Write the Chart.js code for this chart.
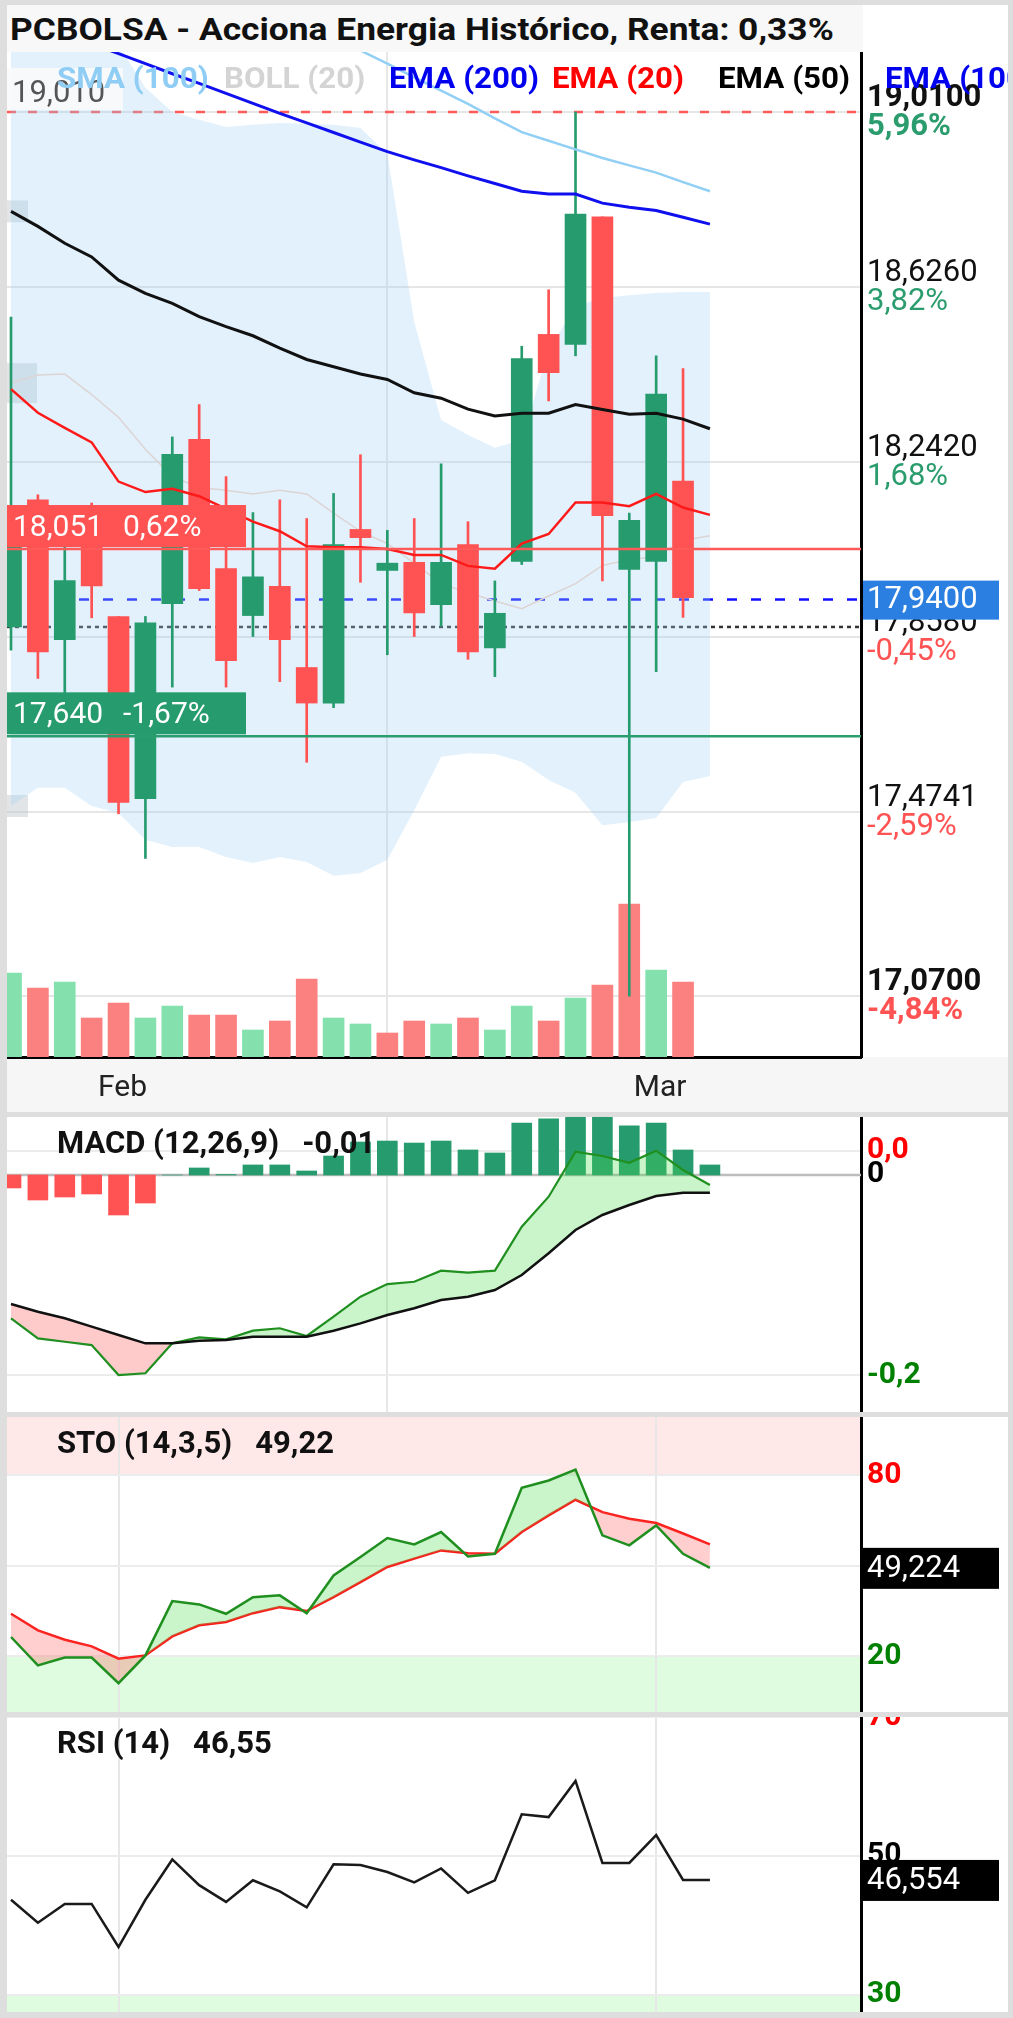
<!DOCTYPE html>
<html lang="es">
<head>
<meta charset="utf-8">
<title>PCBOLSA - Acciona Energia Histórico</title>
<script src="https://cdn.jsdelivr.net/npm/chart.js@4.4.1/dist/chart.umd.min.js"></script>
<style>
html,body{margin:0;padding:0}
body{width:1013px;height:2018px;background:#dedede;position:relative;overflow:hidden;font-family:Roboto,"Noto Sans",sans-serif}
.blk{position:absolute;left:7px;width:1001px;background:#fff}
canvas{position:absolute;left:7px}
.t{position:absolute;white-space:pre;line-height:36px;height:36px;transform-origin:0 50%}
.lg{font-size:29px;font-weight:700;top:2px;transform:scaleX(1.08)}
.pt{font-size:31px;font-weight:700;color:#111}
</style>
</head>
<body>
<div class="blk" style="top:5px;height:1107px"></div>
<div class="blk" style="top:1117px;height:295px"></div>
<div class="blk" style="top:1417px;height:295px"></div>
<div class="blk" style="top:1717px;height:295px"></div>
<div style="position:absolute;left:7px;top:5px;width:856px;height:47px;background:#f8f8f8"></div>
<canvas id="cMain" width="1001" height="1060" style="top:52px;width:1001px;height:1060px"></canvas>
<canvas id="cMacd" width="1001" height="295" style="top:1117px;width:1001px;height:295px"></canvas>
<canvas id="cSto" width="1001" height="295" style="top:1417px;width:1001px;height:295px"></canvas>
<canvas id="cRsi" width="1001" height="295" style="top:1717px;width:1001px;height:295px"></canvas>

<div class="t" style="left:10px;top:12px;font-size:31px;font-weight:700;color:#111;transform:scaleX(1.14)">PCBOLSA - Acciona Energia Histórico, Renta: 0,33%</div>
<div style="position:absolute;left:7px;top:58px;width:1001px;height:40px;overflow:hidden">
  <span class="t lg" style="left:50px;color:#8fcdf5">SMA (100)</span>
  <span class="t lg" style="left:217px;color:#d4d4d4">BOLL (20)</span>
  <span class="t lg" style="left:382px;color:#0000ee">EMA (200)</span>
  <span class="t lg" style="left:545px;color:#ff0000">EMA (20)</span>
  <span class="t lg" style="left:711px;color:#000000">EMA (50)</span>
  <span class="t lg" style="left:878px;color:#0000ee">EMA (100)</span>
</div>
<div class="t pt" id="tMacd" style="left:57px;top:1125px"></div>
<div class="t pt" id="tSto" style="left:57px;top:1425px"></div>
<div class="t pt" id="tRsi" style="left:57px;top:1725px"></div>

<script>
// ---------------- DATA ----------------
const dates = ['2025-01-28','2025-01-29','2025-01-30','2025-01-31','2025-02-03','2025-02-04','2025-02-05','2025-02-06','2025-02-07',
  '2025-02-10','2025-02-11','2025-02-12','2025-02-13','2025-02-14','2025-02-17','2025-02-18','2025-02-19','2025-02-20','2025-02-21',
  '2025-02-24','2025-02-25','2025-02-26','2025-02-27','2025-02-28','2025-03-03','2025-03-04','2025-03-05'];
const monthNames = ['Ene','Feb','Mar','Abr','May','Jun','Jul','Ago','Sep','Oct','Nov','Dic'];

const openP  = [17.880,18.159,17.852,18.100,17.903,17.503,17.931,18.292,18.008,17.905,17.969,17.791,17.713,18.094,18.004,18.022,17.929,18.061,17.834,18.024,18.522,18.500,18.780,18.006,18.024,18.200];
const highP  = [18.560,18.170,18.080,18.152,17.903,17.903,18.297,18.368,18.210,18.131,18.159,18.118,18.173,18.258,18.092,18.118,18.238,18.111,17.981,18.496,18.620,19.010,18.780,18.130,18.475,18.447];
const lowP   = [17.829,17.767,17.736,17.900,17.470,17.372,17.748,17.960,17.748,17.859,17.760,17.583,17.703,17.978,17.819,17.859,17.882,17.809,17.771,18.017,18.376,18.475,17.981,17.070,17.782,17.901];
const closeP = [18.060,17.825,17.982,17.970,17.495,17.889,18.259,17.964,17.806,17.990,17.852,17.713,18.061,18.076,18.020,17.911,18.022,17.825,17.910,18.469,18.438,18.786,18.124,18.114,18.391,17.944];
const volumeK = [168,138,150,78,108,78,102,84,84,54,72,156,78,66,48,72,66,78,54,102,72,118,144,306,174,150];

const sma100 = [19.528,19.499,19.469,19.440,19.409,19.381,19.351,19.322,19.293,19.263,19.234,19.204,19.175,19.145,19.116,19.086,19.057,19.028,18.996,18.966,18.947,18.928,18.909,18.893,18.877,18.856,18.836];
const ema200 = [19.225,19.203,19.181,19.160,19.138,19.116,19.094,19.073,19.051,19.029,19.007,18.986,18.965,18.944,18.923,18.905,18.888,18.870,18.853,18.836,18.830,18.830,18.810,18.801,18.794,18.779,18.764];
const ema50  = [18.792,18.759,18.722,18.692,18.641,18.612,18.590,18.561,18.539,18.519,18.492,18.467,18.451,18.435,18.423,18.394,18.382,18.358,18.343,18.349,18.349,18.368,18.357,18.347,18.349,18.336,18.315];
const ema20  = [18.402,18.350,18.317,18.285,18.199,18.176,18.183,18.167,18.139,18.111,18.090,18.057,18.055,18.055,18.051,18.038,18.038,18.014,18.008,18.063,18.084,18.153,18.153,18.145,18.172,18.142,18.126];
const bollUp  = [19.300,19.280,19.250,19.200,19.157,19.063,19.010,18.993,18.977,18.982,18.986,18.984,18.982,18.975,18.918,18.549,18.334,18.301,18.273,18.290,18.488,18.584,18.602,18.608,18.613,18.615,18.615];
const bollMid = [18.415,18.433,18.435,18.390,18.340,18.270,18.210,18.186,18.180,18.172,18.180,18.172,18.130,18.090,18.063,18.020,17.975,17.955,17.937,17.920,17.948,17.975,18.015,18.028,18.034,18.070,18.080];
const bollLow = [17.487,17.527,17.527,17.487,17.472,17.413,17.397,17.397,17.375,17.362,17.375,17.364,17.334,17.340,17.369,17.478,17.595,17.603,17.601,17.584,17.544,17.516,17.445,17.452,17.461,17.540,17.553];

const priceTicks = [19.0100,18.6260,18.2420,17.8580,17.4741,17.0700];
const lastPrice = 17.94, prevClose = 17.88, periodHigh = 19.01, resistLevel = 18.051, supportLevel = 17.640;
// cut-off value tags at the left edge (first value of overlays)
const edgeTagSeries = [ema50, bollMid, bollLow];

const macdLine = [-0.1426,-0.1625,-0.1659,-0.1692,-0.1990,-0.1973,-0.1675,-0.1615,-0.1635,-0.1549,-0.1525,-0.1602,-0.1410,-0.1211,-0.1085,-0.1062,-0.0952,-0.0972,-0.0952,-0.0514,-0.0216,0.0232,0.0189,0.0122,0.0242,0.0050,-0.0100];
const macdSignal = [-0.1284,-0.1360,-0.1426,-0.1509,-0.1592,-0.1675,-0.1675,-0.1649,-0.1642,-0.1609,-0.1609,-0.1609,-0.1549,-0.1476,-0.1393,-0.1326,-0.1244,-0.1211,-0.1144,-0.0995,-0.0779,-0.0547,-0.0398,-0.0299,-0.0209,-0.0176,-0.0176];
const macdHist = [-0.0129,-0.0249,-0.0219,-0.0189,-0.0398,-0.0279,0.0000,0.0070,0.0005,0.0100,0.0100,0.0040,0.0189,0.0328,0.0338,0.0318,0.0338,0.0249,0.0219,0.0517,0.0560,0.0779,0.0587,0.0488,0.0517,0.0249,0.0100];

const stoK = [26.3,16.9,19.5,19.5,11.0,20.2,38.2,37.1,34.0,39.5,40.1,34.2,46.7,52.8,59.1,57.0,61.1,53.0,53.9,75.8,78.2,81.8,60.0,56.7,63.3,53.9,49.224];
const stoD = [34.0,28.5,25.4,23.2,19.1,20.2,26.5,30.2,31.3,34.2,36.2,34.9,39.5,44.5,49.5,52.3,55.0,54.1,53.9,61.1,66.6,71.8,67.7,65.5,64.1,60.6,57.0];
const stoLevels = [80,50,20];

const rsi = [43.7,40.4,43.1,43.1,36.9,43.7,49.5,45.8,43.4,46.5,44.9,42.6,48.8,48.7,47.7,46.2,48.2,44.7,46.5,56.0,55.6,60.8,49.0,49.0,53.0,46.554,46.554];
const rsiLevels = [70,50,30];

// ---------------- HELPERS ----------------
const GREEN='#269c6e', RED='#ff5252', VGREEN='#84e1ae', VRED='#fb8080', TXT_G='#2a9c6d', TXT_R='#ff5252';
const FONT='Roboto, "Noto Sans", sans-serif';
const fmt=(v,d)=>v.toFixed(d).replace('.',',');
const pts=a=>a.map((v,i)=>({x:i,y:v}));
const monthIdx=dates.map((d,i)=> (i>0 && d.slice(5,7)!==dates[i-1].slice(5,7)) ? i : -1).filter(i=>i>=0);
const monthLabel=v=>monthNames[+dates[Math.round(v)].slice(5,7)-1];
const pctTrunc=v=>Math.trunc((v/lastPrice-1)*10000)/100;
const pctRound=v=>Math.round((v/lastPrice-1)*10000)/100;
const X_MIN=-0.149, X_MAX=31.62, AXIS_W=147;

Chart.defaults.font.family=FONT;
Chart.defaults.animation=false;

function xAxis(withLabels){
  return {type:'linear',min:X_MIN,max:X_MAX,offset:false,position:'bottom',
    afterBuildTicks:s=>{s.ticks=monthIdx.map(v=>({value:v}));},
    grid:{color:'#e7e7e7',lineWidth:2,drawTicks:false},
    border:{display:withLabels,color:'#000',width:3},
    ticks:{display:withLabels,autoSkip:false,maxRotation:0,padding:13,labelOffset:4,color:'#222',font:{size:30},callback:v=>monthLabel(v)},
    afterFit:s=>{s.height=withLabels?55:0;}};
}
function yAxis(min,max,ticks,gridColor){
  return {position:'right',min,max,
    afterBuildTicks:s=>{s.ticks=ticks.map(v=>({value:v}));},
    grid:{color:gridColor,lineWidth:2,drawTicks:false},
    border:{color:'#000',width:3},
    ticks:{display:false},
    afterFit:s=>{s.width=AXIS_W;}};
}
function txt(ctx,s,x,y,color,bold,size){
  ctx.font=(bold?'700 ':'400 ')+(size||31)+'px '+FONT;
  ctx.fillStyle=color; ctx.textBaseline='middle'; ctx.textAlign='left';
  ctx.fillText(s,x,y);
}
function hline(ctx,x0,x1,y,color,w,dash){
  ctx.save(); ctx.strokeStyle=color; ctx.lineWidth=w; ctx.setLineDash(dash||[]);
  ctx.beginPath(); ctx.moveTo(x0,y); ctx.lineTo(x1,y); ctx.stroke(); ctx.restore();
}
function valueBox(ctx,a,py,text,bg){
  ctx.fillStyle=bg; ctx.fillRect(a.right+1,py-20,137,41);
  txt(ctx,text,a.right+6,py+1,'#fff',false);
}
const baseOpts={responsive:false,devicePixelRatio:1,animation:false,events:[],
  plugins:{legend:{display:false},tooltip:{enabled:false}},layout:{padding:0}};

// ---------------- MAIN CHART ----------------
const candleCol=openP.map((o,i)=>closeP[i]>=o?GREEN:RED);
const volCol=closeP.map((c,i)=>(i===0?c>=openP[0]:c>=closeP[i-1])?VGREEN:VRED);

const mainPlugin={id:'mainDecor',
  beforeDraw(c){const {ctx,chartArea:a}=c;ctx.save();ctx.fillStyle='#f6f6f6';ctx.fillRect(0,a.bottom,c.width,c.height-a.bottom);ctx.restore();},
  beforeDatasetsDraw(c){
    const {ctx,chartArea:a,scales:{y}}=c;
    ctx.save();ctx.beginPath();ctx.rect(a.left,a.top,a.right-a.left,a.bottom-a.top);ctx.clip();
    hline(ctx,a.left,a.right,y.getPixelForValue(periodHigh),'#ff5a5a',2.5,[9,12]);
    hline(ctx,a.left,a.right,y.getPixelForValue(lastPrice),'#1010ff',2.5,[10,14]);
    hline(ctx,a.left,a.right,y.getPixelForValue(prevClose),'#333',2.5,[4,4]);
    ctx.fillStyle='rgba(190,198,205,0.45)';
    edgeTagSeries.forEach((s,k)=>{const py=y.getPixelForValue(s[0]);const h=k===1?40:22;ctx.fillRect(a.left,py-h/2,k===1?30:21,h);});
    ctx.restore();
  },
  afterDatasetsDraw(c){
    const {ctx,chartArea:a,scales:{y}}=c;
    ctx.save();
    const ry=y.getPixelForValue(resistLevel), sy=y.getPixelForValue(supportLevel), hy=y.getPixelForValue(periodHigh);
    hline(ctx,a.left,a.right,ry,'#ff5a5a',2.5);
    hline(ctx,a.left,a.right,sy,'#2a9d6f',2.5);
    ctx.fillStyle='#ff5252';ctx.fillRect(a.left,ry-44,239,42);
    txt(ctx,fmt(resistLevel,3),a.left+6,ry-21,'#fff',false,30);
    txt(ctx,fmt(pctRound(resistLevel),2)+'%',a.left+116,ry-21,'#fff',false,30);
    ctx.fillStyle='#269c6e';ctx.fillRect(a.left,sy-44,239,42);
    txt(ctx,fmt(supportLevel,3),a.left+6,sy-21,'#fff',false,30);
    txt(ctx,fmt(pctRound(supportLevel),2)+'%',a.left+116,sy-21,'#fff',false,30);
    ctx.fillStyle='rgba(250,250,250,0.95)';ctx.fillRect(a.left,hy-44,116,42);
    txt(ctx,fmt(periodHigh,3),a.left+5,hy-18,'#555',false,31);
    ctx.restore();
  },
  afterDraw(c){
    const {ctx,chartArea:a,scales:{y}}=c;
    ctx.save();
    priceTicks.forEach((v,k)=>{
      const py=y.getPixelForValue(v), bold=(k===0||k===priceTicks.length-1), p=pctTrunc(v);
      txt(ctx,fmt(v,4),a.right+6,py-14,'#111',bold);
      txt(ctx,fmt(p,2)+'%',a.right+6,py+15,p>=0?TXT_G:TXT_R,bold);
    });
    const ly=y.getPixelForValue(lastPrice);
    ctx.fillStyle='#2b7fe0';ctx.fillRect(a.right+2,ly-19,136,39);
    txt(ctx,fmt(lastPrice,4),a.right+6,ly+1,'#fff',false);
    ctx.restore();
  }};

new Chart(document.getElementById('cMain'),{
  type:'bar',
  data:{datasets:[
    {type:'line',data:pts(bollUp),borderWidth:0,pointRadius:0,fill:'+1',backgroundColor:'rgba(160,210,245,0.30)',order:20},
    {type:'line',data:pts(bollLow),borderWidth:0,pointRadius:0,fill:false,order:19},
    {type:'bar',data:pts(volumeK),yAxisID:'yv',backgroundColor:volCol,barThickness:21,grouped:false,order:18},
    {type:'line',data:pts(bollMid),borderColor:'#ddd4d4',borderWidth:1.5,pointRadius:0,fill:false,order:17},
    {type:'bar',data:lowP.map((l,i)=>({x:i,y:[l,highP[i]]})),backgroundColor:candleCol,barThickness:2,grouped:false,order:12},
    {type:'bar',data:openP.map((o,i)=>({x:i,y:[o,closeP[i]]})),backgroundColor:candleCol,barThickness:21,grouped:false,minBarLength:2,order:11},
    {type:'line',data:pts(sma100),borderColor:'#92cff5',borderWidth:2.5,pointRadius:0,fill:false,order:4},
    {type:'line',data:pts(ema200),borderColor:'#1010ee',borderWidth:3,pointRadius:0,fill:false,order:3},
    {type:'line',data:pts(ema50),borderColor:'#111',borderWidth:3,pointRadius:0,fill:false,order:2},
    {type:'line',data:pts(ema20),borderColor:'#ff1a1a',borderWidth:2.5,pointRadius:0,fill:false,order:1}
  ]},
  options:{...baseOpts,
    scales:{x:xAxis(true),y:yAxis(16.9363,19.1417,priceTicks,'#e6e6e6'),yv:{display:false,min:0,max:2010}}},
  plugins:[mainPlugin]
});

// ---------------- MACD ----------------
const macdMax=Math.max(...macdLine), macdMin=Math.min(...macdLine);
document.getElementById('tMacd').textContent='MACD (12,26,9)   '+fmt(macdLine[macdLine.length-1],2);
new Chart(document.getElementById('cMacd'),{
  type:'bar',
  data:{datasets:[
    {type:'bar',data:pts(macdHist),backgroundColor:macdHist.map(v=>v>=0?GREEN:RED),barThickness:20,grouped:false,order:10},
    {type:'line',data:pts(macdLine),borderColor:'#1f8f1f',borderWidth:2.2,pointRadius:0,
      fill:{target:'+1',above:'rgba(80,220,80,0.30)',below:'rgba(255,80,80,0.30)'},order:2},
    {type:'line',data:pts(macdSignal),borderColor:'#111',borderWidth:2.5,pointRadius:0,fill:false,order:1}
  ]},
  options:{...baseOpts,scales:{x:xAxis(false),y:yAxis(-0.2358,0.0577,[macdMax,macdMin],'#ececec')}},
  plugins:[{id:'macdDecor',
    beforeDatasetsDraw(c){const {ctx,chartArea:a,scales:{y}}=c;hline(ctx,a.left,a.right,y.getPixelForValue(0),'#bdbdbd',2.5);},
    afterDraw(c){const {ctx,chartArea:a,scales:{y}}=c;
      txt(ctx,fmt(macdMax,1),a.right+6,y.getPixelForValue(macdMax),'#ff0000',true,30);
      txt(ctx,'0',a.right+6,y.getPixelForValue(0),'#000',true,30);
      txt(ctx,fmt(macdMin,1),a.right+6,y.getPixelForValue(macdMin),'#008000',true,30);}}]
});

// ---------------- STO ----------------
document.getElementById('tSto').textContent='STO (14,3,5)   '+fmt(stoK[stoK.length-1],2);
new Chart(document.getElementById('cSto'),{
  type:'line',
  data:{datasets:[
    {data:pts(stoK),borderColor:'#1f8f1f',borderWidth:2.5,pointRadius:0,
      fill:{target:'+1',above:'rgba(80,220,80,0.30)',below:'rgba(255,80,80,0.28)'}},
    {data:pts(stoD),borderColor:'#ff1a1a',borderWidth:2.5,pointRadius:0,fill:false}
  ]},
  options:{...baseOpts,scales:{x:xAxis(false),y:yAxis(1.44,99.23,stoLevels,'#ececec')}},
  plugins:[{id:'stoDecor',
    beforeDraw(c){const {ctx,chartArea:a,scales:{y}}=c;
      const y80=y.getPixelForValue(stoLevels[0]), y20=y.getPixelForValue(stoLevels[2]);
      ctx.save();ctx.fillStyle='#ffe8e8';ctx.fillRect(a.left,a.top,a.right-a.left,y80-a.top);
      ctx.fillStyle='#e0fce0';ctx.fillRect(a.left,y20,a.right-a.left,a.bottom-y20);ctx.restore();},
    afterDraw(c){const {ctx,chartArea:a,scales:{y}}=c;
      txt(ctx,String(stoLevels[0]),a.right+6,y.getPixelForValue(stoLevels[0]),'#ff0000',true,30);
      txt(ctx,String(stoLevels[2]),a.right+6,y.getPixelForValue(stoLevels[2]),'#008000',true,30);
      const lv=stoK[stoK.length-1];valueBox(ctx,a,y.getPixelForValue(lv),fmt(lv,3),'#000');}}]
});

// ---------------- RSI ----------------
document.getElementById('tRsi').textContent='RSI (14)   '+fmt(rsi[rsi.length-1],2);
new Chart(document.getElementById('cRsi'),{
  type:'line',
  data:{datasets:[{data:pts(rsi),borderColor:'#1a1a1a',borderWidth:2.5,pointRadius:0,fill:false}]},
  options:{...baseOpts,scales:{x:xAxis(false),y:yAxis(27.55,70,rsiLevels,'#ececec')}},
  plugins:[{id:'rsiDecor',
    beforeDraw(c){const {ctx,chartArea:a,scales:{y}}=c;const y30=y.getPixelForValue(rsiLevels[2]);
      ctx.save();ctx.fillStyle='#e0fce0';ctx.fillRect(a.left,y30,a.right-a.left,a.bottom-y30);ctx.restore();},
    afterDraw(c){const {ctx,chartArea:a,scales:{y}}=c;
      txt(ctx,String(rsiLevels[0]),a.right+6,y.getPixelForValue(rsiLevels[0]),'#ff0000',true,30);
      txt(ctx,String(rsiLevels[1]),a.right+6,y.getPixelForValue(rsiLevels[1]),'#000',true,30);
      txt(ctx,String(rsiLevels[2]),a.right+6,y.getPixelForValue(rsiLevels[2]),'#008000',true,30);
      const lv=rsi[rsi.length-1];valueBox(ctx,a,y.getPixelForValue(lv),fmt(lv,3),'#000');}}]
});
</script>
</body>
</html>
